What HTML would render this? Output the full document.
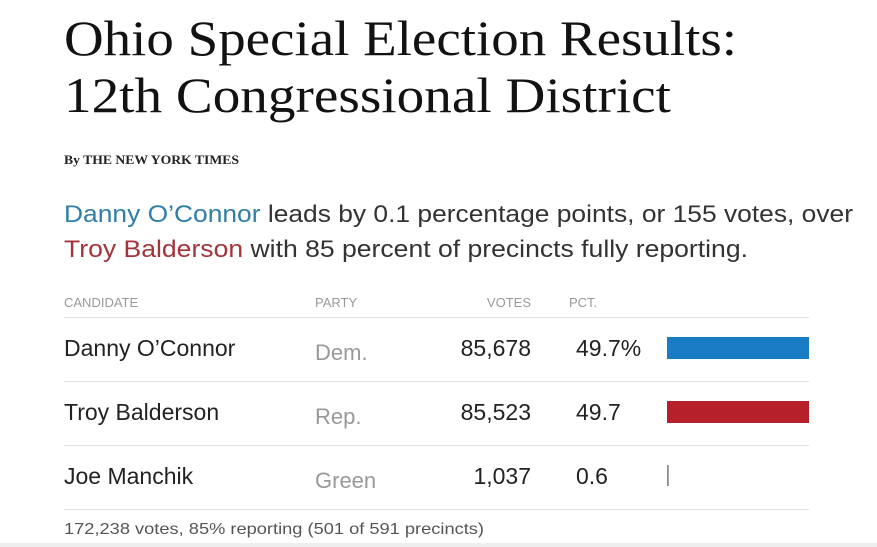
<!DOCTYPE html>
<html><head><meta charset="utf-8"><style>
html,body{margin:0;padding:0;background:#fff;width:877px;height:547px;overflow:hidden}
svg{display:block}
.s{font-family:"Liberation Sans",sans-serif}
.f{font-family:"Liberation Serif",serif}
</style></head><body>
<svg width="877" height="547" viewBox="0 0 877 547">
<rect x="0" y="0" width="877" height="547" fill="#fff"/>
<text class="f" x="64" y="55" font-size="50" fill="#121212" textLength="673" lengthAdjust="spacingAndGlyphs">Ohio Special Election Results:</text>
<text class="f" x="64" y="112" font-size="50" fill="#121212" textLength="607" lengthAdjust="spacingAndGlyphs">12th Congressional District</text>
<text class="f" x="64" y="164" font-size="13" font-weight="bold" fill="#222" textLength="175" lengthAdjust="spacingAndGlyphs">By THE NEW YORK TIMES</text>
<text class="s" x="64" y="222" font-size="24" fill="#333" textLength="789" lengthAdjust="spacingAndGlyphs"><tspan fill="#2f7fa8">Danny O’Connor</tspan> leads by 0.1 percentage points, or 155 votes, over</text>
<text class="s" x="64" y="257" font-size="24" fill="#333" textLength="684" lengthAdjust="spacingAndGlyphs"><tspan fill="#a3343a">Troy Balderson</tspan> with 85 percent of precincts fully reporting.</text>
<g id="table"></g>
<text class="s" x="64" y="534" font-size="16" fill="#555" textLength="420" lengthAdjust="spacingAndGlyphs">172,238 votes, 85% reporting (501 of 591 precincts)</text>
<rect x="0" y="543" width="877" height="4" fill="#eeeeee"/>
</svg>
<script>
const candidates=["Danny O’Connor","Troy Balderson","Joe Manchik"];
const parties=["Dem.","Rep.","Green"];
const votes=[85678,85523,1037];
const pcts=[49.7,49.7,0.6];
const colors=["#1a7cc4","#b5202a","#888"];
const NS="http://www.w3.org/2000/svg";
const g=document.getElementById('table');
function mk(tag,attrs,txt){const e=document.createElementNS(NS,tag);for(const k in attrs)e.setAttribute(k,attrs[k]);if(txt!==undefined)e.textContent=txt;g.appendChild(e);return e;}
const hdr=[["CANDIDATE",64,"start"],["PARTY",315,"start"],["VOTES",531,"end"],["PCT.",569,"start"]];
hdr.forEach(h=>{const t=mk('text',{x:h[1],y:307,'font-size':13,fill:'#999','text-anchor':h[2],'class':'s'},h[0]);

});
const l0=mk('rect',{x:64,y:317,width:745,height:1,fill:'#e2e2e2'});


const barX=667,barW=142,maxPct=49.7;
function bw(p){return barW*p/maxPct;}
candidates.forEach((c,i)=>{
  const y=356+i*64;
  const n=mk('text',{x:64,y:y,'font-size':23,fill:'#222','class':'s'},c);
  
  
  const p=mk('text',{x:315,y:y+4,'font-size':22,fill:'#999','class':'s'},parties[i]);
  
  
  const v=mk('text',{x:531,y:y,'font-size':23,fill:'#222','text-anchor':'end','class':'s'},votes[i].toLocaleString('en-US'));
  
  
  const pc=mk('text',{x:576,y:y,'font-size':23,fill:'#222','class':'s'},pcts[i].toFixed(1)+(i===0?'%':''));
  
  
  const w=Math.max(1,bw(pcts[i]));
  const b=mk('rect',{x:barX,y:y-19,width:w,height:i===2?21:22,fill:colors[i]});
  
  
  const r=mk('rect',{x:64,y:y+25,width:745,height:1,fill:'#e2e2e2'});
  
  
});
</script>
</body></html>
